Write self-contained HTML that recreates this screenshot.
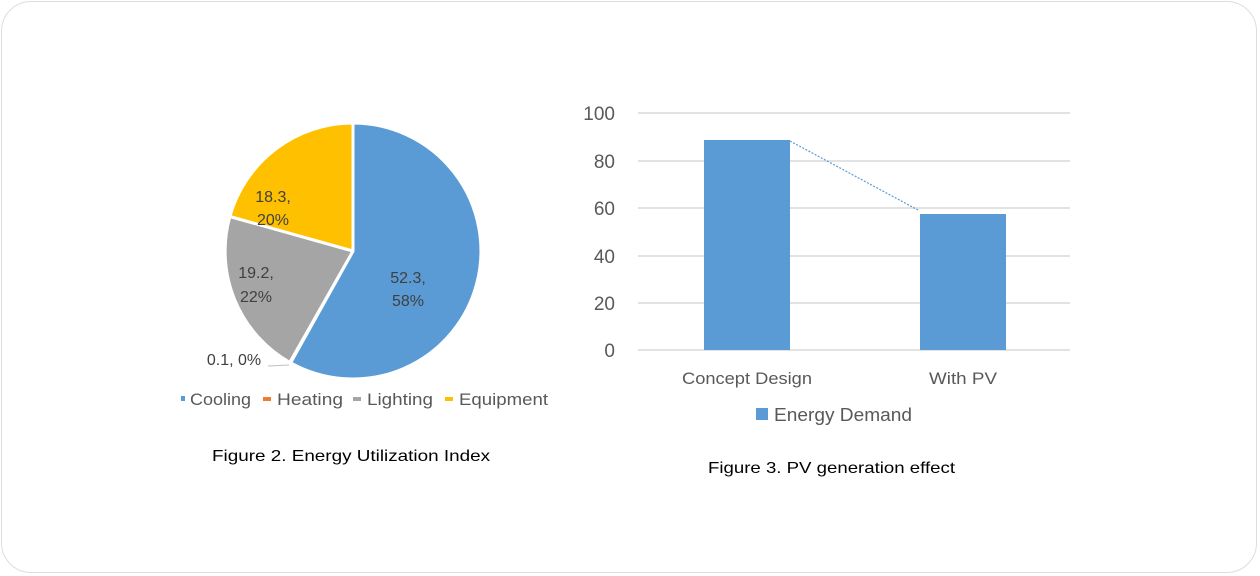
<!DOCTYPE html>
<html><head><style>
html,body{margin:0;padding:0;background:#fff;}
body{width:1260px;height:576px;overflow:hidden;position:relative;font-family:"Liberation Sans",sans-serif;}
.frame{position:absolute;left:1px;top:1px;width:1256px;height:572px;border:1px solid #ddd;border-radius:30px;box-sizing:border-box;}
</style></head><body>
<div class="frame"></div>
<svg width="1260" height="576" style="position:absolute;left:0;top:0" font-family="Liberation Sans, sans-serif">
<g stroke="#fff" stroke-width="3" stroke-linejoin="round">
<path d="M353,251 L353,123 A128,128 0 1 1 290.6,362.8 Z" fill="#5b9bd5"/>
<path d="M353,251 L290.6,362.8 A128,128 0 0 1 289.8,362.4 Z" fill="#ed7d31"/>
<path d="M353,251 L289.8,362.4 A128,128 0 0 1 229.9,216.5 Z" fill="#a5a5a5"/>
<path d="M353,251 L229.9,216.5 A128,128 0 0 1 353,123 Z" fill="#ffc000"/>
</g>
<g font-size="16" fill="#404040" text-anchor="middle">
<text x="273" y="202">18.3,</text><text x="273" y="225">20%</text>
<text x="256" y="278">19.2,</text><text x="256" y="302">22%</text>
<text x="408" y="283">52.3,</text><text x="408" y="306">58%</text>
<text x="234" y="365">0.1, 0%</text>
</g>
<line x1="268" y1="366" x2="289" y2="365" stroke="#bfbfbf" stroke-width="1"/>
<g font-size="17" fill="#595959">
<rect x="181" y="396" width="4" height="5" fill="#5b9bd5"/><text x="190" y="405" textLength="61" lengthAdjust="spacingAndGlyphs">Cooling</text>
<rect x="263" y="397" width="8" height="4" fill="#ed7d31"/><text x="277" y="405" textLength="66" lengthAdjust="spacingAndGlyphs">Heating</text>
<rect x="353" y="397" width="8" height="4" fill="#a5a5a5"/><text x="367" y="405" textLength="66" lengthAdjust="spacingAndGlyphs">Lighting</text>
<rect x="445" y="397" width="8" height="4" fill="#ffc000"/><text x="459" y="405" textLength="89" lengthAdjust="spacingAndGlyphs">Equipment</text>
</g>
<text x="212" y="461" font-size="16" fill="#000" textLength="278" lengthAdjust="spacingAndGlyphs">Figure 2. Energy  Utilization Index</text>
<g stroke="#d9d9d9" stroke-width="1.5">
<line x1="638" y1="113" x2="1070" y2="113"/>
<line x1="638" y1="161" x2="1070" y2="161"/>
<line x1="638" y1="208" x2="1070" y2="208"/>
<line x1="638" y1="256" x2="1070" y2="256"/>
<line x1="638" y1="303" x2="1070" y2="303"/>
<line x1="638" y1="350" x2="1070" y2="350"/>
</g>
<g font-size="19" fill="#595959" text-anchor="end">
<text x="615" y="120">100</text><text x="615" y="168">80</text><text x="615" y="215">60</text>
<text x="615" y="263">40</text><text x="615" y="310">20</text><text x="615" y="357">0</text>
</g>
<rect x="704" y="140" width="86" height="210" fill="#5b9bd5"/>
<rect x="920" y="214" width="86" height="136" fill="#5b9bd5"/>
<line x1="790" y1="141" x2="918" y2="210" stroke="#5b9bd5" stroke-width="1.2" stroke-dasharray="2,1.5"/>
<g font-size="17" fill="#595959">
<text x="682" y="384" textLength="130" lengthAdjust="spacingAndGlyphs">Concept Design</text>
<text x="929" y="384" textLength="68" lengthAdjust="spacingAndGlyphs">With PV</text>
</g>
<rect x="756" y="408" width="12" height="12" fill="#5b9bd5"/>
<text x="774" y="421" font-size="18" fill="#595959" textLength="138" lengthAdjust="spacingAndGlyphs">Energy Demand</text>
<text x="708" y="473" font-size="16" fill="#000" textLength="247" lengthAdjust="spacingAndGlyphs">Figure 3. PV generation effect</text>
</svg>
</body></html>
